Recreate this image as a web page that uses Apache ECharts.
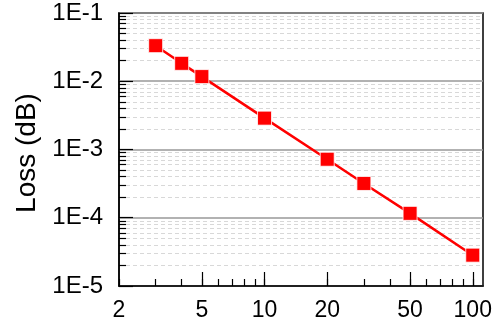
<!DOCTYPE html>
<html>
<head>
<meta charset="utf-8">
<script src="https://cdn.jsdelivr.net/npm/echarts@6/dist/echarts.min.js"></script>
<style>
  html, body { margin: 0; padding: 0; background: #fff; }
  #chart { width: 496px; height: 330px; }
</style>
</head>
<body>
<div id="chart"></div>
<script>
// data
var lengths = [3, 4, 5, 10, 20, 30, 50, 100];
var losses = [0.0332, 0.0183, 0.0117, 0.00288, 0.00072, 0.000318, 0.000116, 0.0000283];

// axis ticks
var xLabels = [2, 5, 10, 20, 50, 100];
var xMinor = [2, 3, 4, 5, 6, 7, 8, 9, 10, 20, 30, 40, 50, 60, 70, 80, 90, 100];
var yLabels = [1e-5, 1e-4, 1e-3, 1e-2, 1e-1];
var yMinor = [];
yLabels.slice(0, 4).forEach(function (d) {
  for (var m = 2; m <= 9; m++) yMinor.push(m * d);
});

var font = 'Liberation Sans, Arial, sans-serif';
var xMin = 2, xMax = 112;
var yMin = 1e-5, yMax = 1e-1;

var chart = echarts.init(document.getElementById('chart'));

function xAxisBase(show) {
  return {
    type: 'log', logBase: 10, min: xMin, max: xMax,
    position: 'bottom',
    axisLine: { show: show, lineStyle: { color: '#000', width: 1.5 } },
    splitLine: { show: false },
    minorTick: { show: false }
  };
}
function yAxisBase(show) {
  return {
    type: 'log', logBase: 10, min: yMin, max: yMax,
    position: 'left',
    axisLine: { show: show, lineStyle: { color: '#000', width: 1.5 } },
    minorTick: { show: false }
  };
}

var x0 = xAxisBase(true);
x0.axisTick = { show: true, inside: true, length: 14, lineStyle: { color: '#000', width: 1.2 }, customValues: xLabels.slice(1) };
x0.axisLabel = { show: true, margin: 13, color: '#000', fontSize: 23, fontFamily: font, customValues: xLabels,
  formatter: function (v) { return String(Math.round(v)); } };

var x1 = xAxisBase(false);
x1.axisTick = { show: true, inside: true, length: 7, lineStyle: { color: '#000', width: 1.2 }, customValues: xMinor };
x1.axisLabel = { show: false };

var y0 = yAxisBase(true);
y0.axisTick = { show: true, inside: true, length: 14, lineStyle: { color: '#000', width: 1.2 }, customValues: yLabels };
y0.axisLabel = { show: true, margin: 16, color: '#000', fontSize: 24, fontFamily: font, customValues: yLabels,
  formatter: function (v) { return '1E' + Math.round(Math.log10(v)); } };
y0.splitLine = { show: true, lineStyle: { color: '#999', width: 1.5 } };
y0.name = 'Loss (dB)';
y0.nameLocation = 'middle';
y0.nameGap = 77;
y0.nameTextStyle = { color: '#000', fontSize: 28, fontFamily: font, padding: [0, 7, 0, 0] };

var y1 = yAxisBase(false);
y1.axisTick = { show: true, inside: true, length: 7, lineStyle: { color: '#000', width: 1.2 }, customValues: yMinor };
y1.axisLabel = { show: false };
y1.splitLine = { show: true, lineStyle: { color: '#d8d8d8', width: 1, type: [4, 3] } };

chart.setOption({
  animation: false,
  grid: {
    left: 119, right: 13, top: 13, bottom: 44,
    show: true, borderColor: '#000', borderWidth: 1.5, backgroundColor: 'transparent'
  },
  xAxis: [x0, x1],
  yAxis: [y1, y0],
  series: [{
    type: 'line',
    xAxisIndex: 0,
    yAxisIndex: 1,
    data: lengths.map(function (x, i) { return [x, losses[i]]; }),
    symbol: 'rect',
    symbolSize: 14,
    lineStyle: { color: '#ff0000', width: 2.5 },
    itemStyle: { color: '#ff0000', borderColor: '#fff', borderWidth: 0.8 },
    z: 5
  }]
});
</script>
</body>
</html>
